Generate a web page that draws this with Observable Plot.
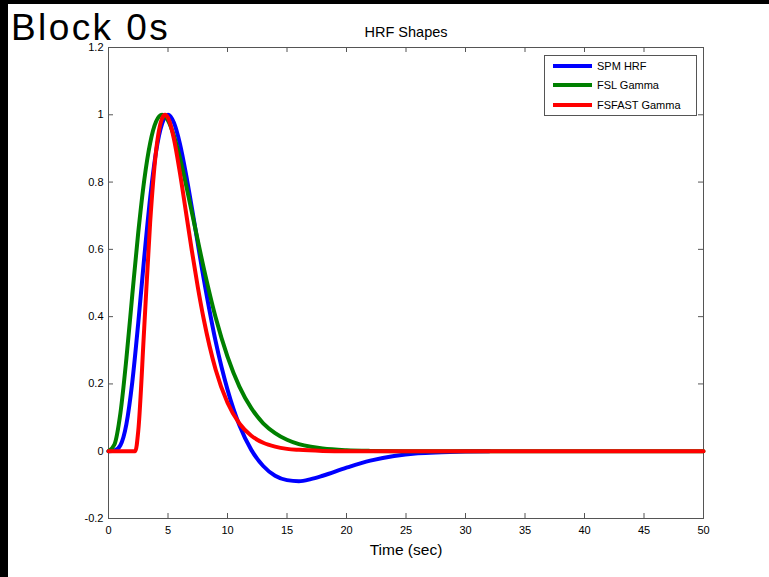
<!DOCTYPE html>
<html><head><meta charset="utf-8">
<script src="https://cdn.jsdelivr.net/npm/d3@7"></script>
<script src="https://cdn.jsdelivr.net/npm/@observablehq/plot@0.6"></script>
<style>
html,body{margin:0;padding:0;background:#000;width:769px;height:577px;overflow:hidden;}
#panel{position:absolute;left:8px;top:4px;width:761px;height:573px;background:#fff;}
#panel svg{position:absolute;left:0;top:0;}
#block{position:absolute;left:3px;top:10px;line-height:0.75;font-family:"Liberation Sans",Arial,Helvetica,sans-serif;font-size:37px;color:#000;letter-spacing:2.4px;white-space:nowrap;z-index:2}
#legend{position:absolute;left:536px;top:51px;width:151px;height:59px;border:1px solid #555;background:#fff;font-family:"Liberation Sans",Arial,sans-serif;font-size:11px;color:#000;z-index:2}
.row{position:absolute;left:0;height:14px;}
.sw{position:absolute;left:8px;width:39px;height:4px;}
.lb{position:absolute;left:52px;white-space:nowrap;line-height:14px;}
</style>
</head><body>
<div id="panel">
  <div id="block">Block 0s</div>
  <div id="legend"></div>
</div>
<script>
// Series
const spmTime  = [0,0.5,1,1.5,2,2.5,3,3.5,4,4.5,5,5.5,6,6.5,7,8,9,10,11,12,13,14,15,16,17,18,20,22,24,26,28,30,32];
const spmValue = [0,0.002,0.018,0.08,0.206,0.381,0.575,0.753,0.891,0.973,1.0,0.976,0.914,0.826,0.725,0.513,0.327,0.183,0.077,0.004,-0.044,-0.073,-0.086,-0.089,-0.083,-0.073,-0.049,-0.028,-0.014,-0.006,-0.003,-0.001,0];

const fslTime  = [0,0.5,1,1.5,2,2.5,3,3.5,4,4.5,5,5.5,6,7,8,9,10,11,12,13,14,15,16,17,18,20,22,25,50];
const fslValue = [0,0.02,0.113,0.274,0.465,0.65,0.805,0.916,0.98,1.0,0.983,0.937,0.872,0.711,0.545,0.398,0.281,0.192,0.128,0.083,0.054,0.034,0.021,0.013,0.008,0.003,0.001,0,0];

const fsfTime  = [0,2.25,2.5,3,3.5,4,4.5,4.75,5,5.5,6,6.5,7,7.5,8,9,10,11,12,13,14,15,16,18,20,50];
const fsfValue = [0,0,0.06,0.365,0.68,0.893,0.989,1.0,0.991,0.928,0.828,0.713,0.597,0.489,0.393,0.243,0.144,0.0825,0.046,0.025,0.0135,0.007,0.004,0.001,0,0];

const seriesNames  = ["SPM HRF","FSL Gamma","FSFAST Gamma"];
const seriesColors = ["#0000ff","#008000","#ff0000"];
const xTicks = [0,5,10,15,20,25,30,35,40,45,50];
const yTicks = [-0.2,0,0.2,0.4,0.6,0.8,1,1.2];
const yTickLabels = ["-0.2","0","0.2","0.4","0.6","0.8","1","1.2"];

const toRows = (ts, vs) => ts.map((t,i)=>({t, v: vs[i]}));
const spm = toRows(spmTime, spmValue);
const fsl = toRows(fslTime, fslValue);
const fsf = toRows(fsfTime, fsfValue);

const W = 761, H = 573, mL = 100, mR = 66, mT = 43, mB = 59;
const pw = W - mL - mR, ph = H - mT - mB;
const tickLen = 5;
const axisColor = "#555";

const chart = Plot.plot({
  width: W, height: H,
  marginLeft: mL, marginRight: mR, marginTop: mT, marginBottom: mB,
  style: {fontFamily: "'Liberation Sans', Arial, sans-serif", background: "transparent", color: "#000"},
  x: {domain: [0, 50], axis: null},
  y: {domain: [-0.2, 1.2], axis: null},
  marks: [
    Plot.frame({stroke: axisColor}),
    Plot.tickX(xTicks, {x: d => d, insetTop: ph - tickLen, stroke: axisColor}),
    Plot.tickX(xTicks, {x: d => d, insetBottom: ph - tickLen, stroke: axisColor}),
    Plot.tickY(yTicks, {y: d => d, insetRight: pw - tickLen, stroke: axisColor}),
    Plot.tickY(yTicks, {y: d => d, insetLeft: pw - tickLen, stroke: axisColor}),
    Plot.axisX(xTicks, {anchor: "bottom", tickSize: 0, tickPadding: 8, fontSize: 11, label: null}),
    Plot.axisY(yTicks, {anchor: "left", tickSize: 0, tickPadding: 5, fontSize: 11, label: null,
      tickFormat: d => yTickLabels[yTicks.indexOf(d)]}),
    Plot.line(spm, {x: "t", y: "v", stroke: seriesColors[0], strokeWidth: 4, curve: "monotone-x"}),
    Plot.line(fsl, {x: "t", y: "v", stroke: seriesColors[1], strokeWidth: 4, curve: "monotone-x"}),
    Plot.line(fsf, {x: "t", y: "v", stroke: seriesColors[2], strokeWidth: 4, curve: "monotone-x"}),
    Plot.text(["HRF Shapes"], {frameAnchor: "top", dy: -21, fontSize: 14.5}),
    Plot.text(["Time (sec)"], {frameAnchor: "bottom", dy: 36, fontSize: 15.5})
  ]
});
document.getElementById("panel").insertBefore(chart, document.getElementById("block"));

const legend = document.getElementById("legend");
const rowTops = [3, 22, 42];
seriesNames.forEach((name, i) => {
  const row = document.createElement("div");
  row.className = "row";
  row.style.top = rowTops[i] + "px";
  row.innerHTML = `<div class="sw" style="top:5px;background:${seriesColors[i]}"></div><div class="lb">${name}</div>`;
  legend.appendChild(row);
});
</script>
</body></html>
